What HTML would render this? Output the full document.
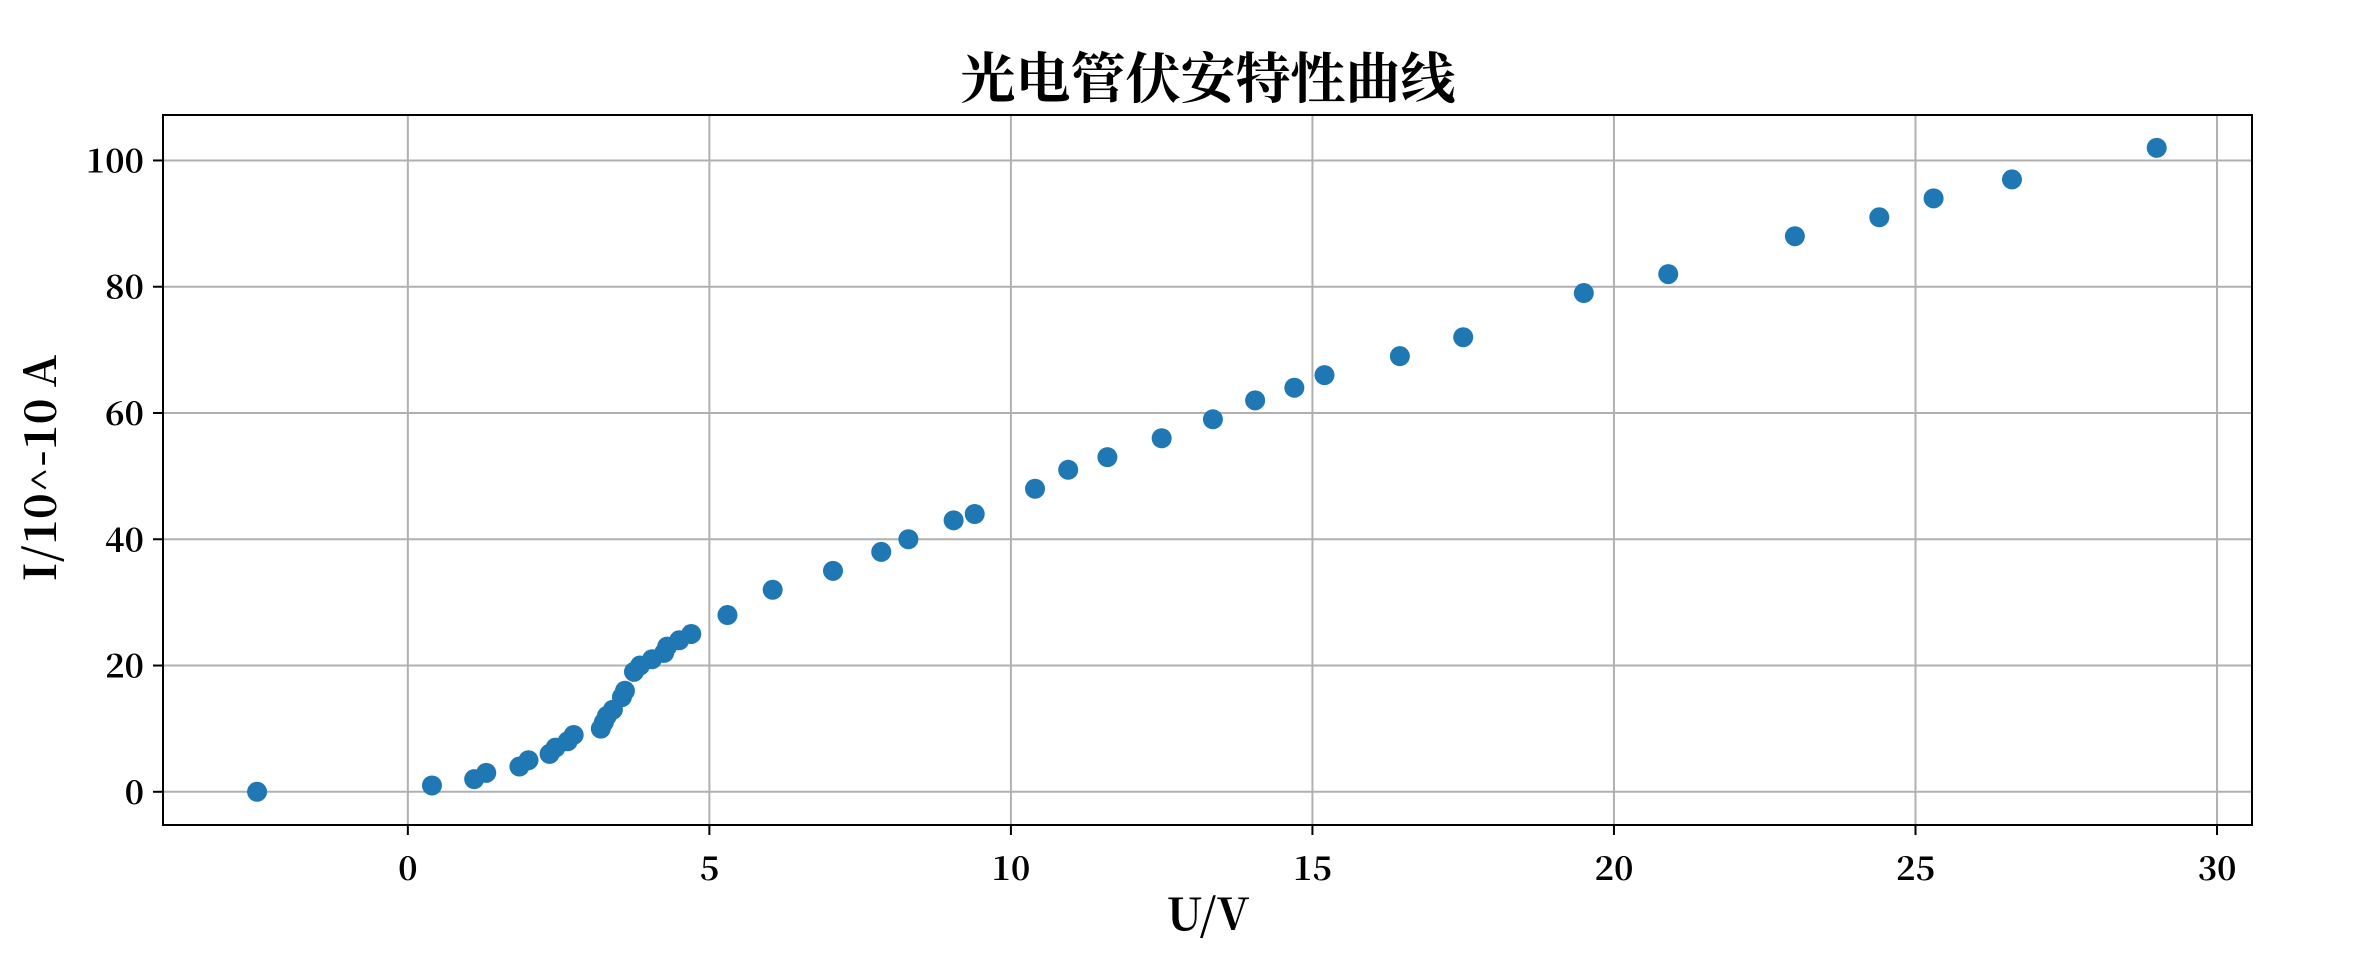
<!DOCTYPE html>
<html><head><meta charset="utf-8"><style>
body{margin:0;background:#fff;}
svg text{font-family:"Noto Serif CJK SC","Liberation Serif",serif;font-weight:bold;fill:#000;}
</style></head><body>
<svg id="chart" width="2368" height="960" viewBox="0 0 2368 960" xmlns="http://www.w3.org/2000/svg">
<text x="1208" y="98" text-anchor="middle" font-size="55">光电管伏安特性曲线</text>
<g id="grid"></g>
<g id="ticks"></g>
<g id="points"></g>
<rect x="163" y="115" width="2089" height="710" fill="none" stroke="#000" stroke-width="2"/>
<text x="1208" y="930" text-anchor="middle" font-size="44">U/V</text>
<text transform="translate(56,468) rotate(-90)" text-anchor="middle" font-size="44">I/10^-10 A</text>
</svg>
<script>
const voltages=[-2.5,0.4,1.1,1.3,1.85,2.0,2.35,2.45,2.65,2.75,3.2,3.25,3.3,3.4,3.55,3.6,3.75,3.85,4.05,4.25,4.3,4.5,4.7,5.3,6.05,7.05,7.85,8.3,9.05,9.4,10.4,10.95,11.6,12.5,13.35,14.05,14.7,15.2,16.45,17.5,19.5,20.9,23,24.4,25.3,26.6,29];
const currents=[0,1,2,3,4,5,6,7,8,9,10,11,12,13,15,16,19,20,21,22,23,24,25,28,32,35,38,40,43,44,48,51,53,56,59,62,64,66,69,72,79,82,88,91,94,97,102];
const xTicks=[0,5,10,15,20,25,30];
const yTicks=[0,20,40,60,80,100];
const L=163,R=2252,T=115,B=825,xmin=-4.06,xmax=30.58,ymin=-5.26,ymax=107.2;
function sx(v){return L+(v-xmin)/(xmax-xmin)*(R-L);}
function sy(v){return B-(v-ymin)/(ymax-ymin)*(B-T);}
const NS="http://www.w3.org/2000/svg";
function mk(tag,attrs,parent){const e=document.createElementNS(NS,tag);for(const k in attrs)e.setAttribute(k,attrs[k]);parent.appendChild(e);return e;}
const grid=document.getElementById('grid'),ticks=document.getElementById('ticks'),pts=document.getElementById('points');
xTicks.forEach(t=>{const x=sx(t);
 const g=mk('line',{x1:x,x2:x,y1:T,y2:B,stroke:'#b0b0b0','stroke-width':2},grid);
 
 
 mk('line',{x1:x,x2:x,y1:B,y2:B+10,stroke:'#000','stroke-width':2},ticks);
 const tx=mk('text',{x:x,y:880,'text-anchor':'middle','font-size':33},ticks);tx.textContent=t;
 
 
});
yTicks.forEach(t=>{const y=sy(t);
 const g=mk('line',{x1:L,x2:R,y1:y,y2:y,stroke:'#b0b0b0','stroke-width':2},grid);
 
 
 mk('line',{x1:L-10,x2:L,y1:y,y2:y,stroke:'#000','stroke-width':2},ticks);
 const tx=mk('text',{x:144,y:y+12,'text-anchor':'end','font-size':33},ticks);tx.textContent=t;
 
 
});
voltages.forEach((v,i)=>{
 const c=mk('circle',{cx:sx(v),cy:sy(currents[i]),r:10,fill:'#1f77b4'},pts);
 
 
});
</script>
</body></html>
